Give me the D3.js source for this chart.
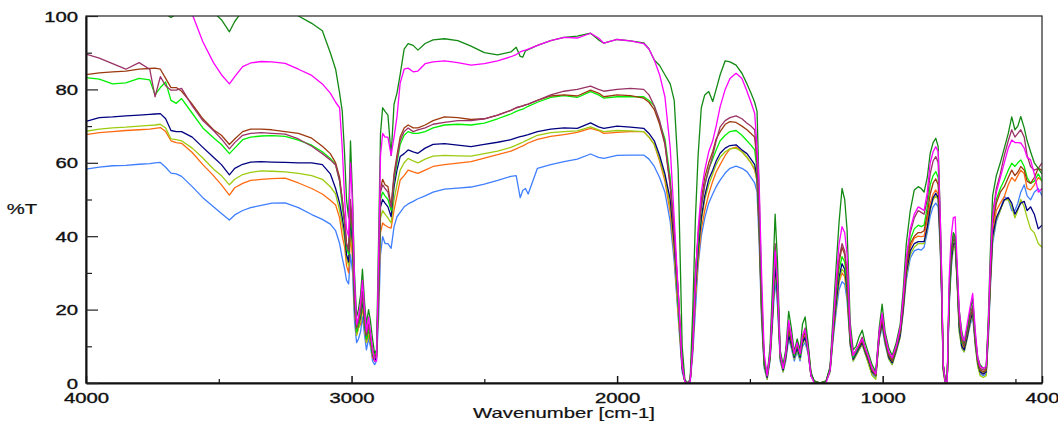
<!DOCTYPE html>
<html><head><meta charset="utf-8">
<script src="https://cdn.jsdelivr.net/npm/d3@7"></script>
<style>body{margin:0;background:#fff}svg{display:block}</style>
</head><body>
<svg id="chart" width="1058" height="421"></svg>
<script>
// ---- DATA ----
const wavenumbers = [
 4000,3950,3900,3850,3800,3760,3740,3720,3700,3680,3660,3640,3600,3560,3520,3490,3460,3440,3410,3380,3340,3300,3250,3200,3150,3110,3080,3060,3045,3035,
 3026,3019,3011,3004,2996,2989,2981,2974,2966,2959,2951,2944,2936,2929,2921,2913,2906,2898,2891,2883,2874,2863,2851,2840,2829,2817,2802,2787,2768,2750,2723,2693,
 2650,2600,2550,2500,2450,2400,2380,2365,2355,2345,2335,2300,2250,2200,2150,2100,2070,2050,2000,1950,1900,1880,1860,1840,1820,1800,1785,1770,1755,1745,1735,
 1725,1715,1705,1695,1683,1670,1655,1640,1627,1612,1593,1575,1552,1530,1511,1496,1482,
 1473,1465,1456,1446,1435,1424,1414,1405,1396,1386,1375,1365,1354,1344,1333,1322,1311,1302,1292,1281,1270,1258,1236,1213,1198,1187,1175,1164,1153,1143,1134,1122,1111,1100,
 1089,1077,1066,1053,1040,1026,1013,1002,991,977,964,949,934,923,911,896,881,866,855,844,832,821,810,800,791,783,778,772,765,757,750,742,734,727,719,712,702,693,682,670,661,651,642,633,621,610,602,595,586,572,557,542,527,514,502,491,480,467,456,443,429,414,400
];

const darkGreen = [
 106,106,105,104,103,102,101.5,101,100.5,99.6,100.5,102,102,102,101,99,95.7,98.5,101.5,103,104,104,103,100,98,96,90,85.5,79,74,
 62,50,45,66,50,30,18,20,24,31,22,16,20,17,12,8,9,40,68,75,74,73,62,76,79,84,91,92.5,92,90.7,92.5,93.5,
 93.8,93.3,91.8,90,89.4,90.2,91.5,89,88.8,90.5,90.8,92,93.3,94.2,94.5,95.3,93.5,92.6,93.6,93.2,92.7,91,88,86.5,84,81.5,77,58,10,1,0,
 1,20,45,62,75,78.5,79.4,76.7,80,84,87.8,87.5,86.6,84.4,81.5,79,76.5,
 74,52,25,6,2,10,28,46,33,9,5,9,19.5,15,8.5,12,9,16,18,11,3,0.5,0,0.5,4.5,18,32,44,53,50,41.7,16.3,9,10,
 12.5,14.4,11,8,5,3,15,21.5,14,9.5,7.5,11,16,25,38,47,52.6,53.5,53,52,56,62.6,65.5,66.7,64.4,45,30,5,1,0.5,22,36,41,40,30,20,14,11,14.5,20,23,13,7,5,4,4.5,18,35,51,56.5,60,64,68,72.5,69,70,72.6,69.5,66,63,60,58.5,57
];
const magenta = [
 108,108,108,108,108,107,106.5,106,105,104,103,102,100.5,93,87.3,84,81.5,83.5,86.2,87.2,87.6,87.5,87.1,85.5,83.8,81.5,79,76.5,75,64,
 50,42,40,60,48,28,16,18,22,28,20,14,18,14,9,6,6,35,62,68,67,67,62,67,72.5,81.7,85.5,85.8,84.8,85,87,87.5,
 87.8,87.3,86.6,87,87.8,88.9,89.5,90.2,90.5,90.7,91,92,93.3,94.2,94,95.3,94,92.6,93.6,93.2,92.5,91,88,84,78,64,45,25,5,0.5,0,
 0.5,10,28,42,52,58,63,66,70,75.3,80,83,84.4,83,79.5,76.5,73.5,
 64,54,30,8,2,8,22,36,28,8,4,8,17,13,8,11,8,13,14.5,9,2,0,-1,0,3.5,15,28,38,42.6,41,35,14,7.5,9,
 10.5,12,9.5,7,4,2.5,14,19,13,8.5,7,10,15,23,34,42,46,48,47.5,47,52,60,63,64.4,63,45,30,5,0.5,0.5,28,40,45,45.3,32,20,13,11.5,16,21,24.4,14,7,4.5,4,4.5,16,32,45,52,56,60,64,66.2,65.5,65.5,65.4,64,61.5,60.8,57,52,53
];
const maroon = [
 89.6,88.5,87,85.5,87.3,85.5,78,83.5,81,79.8,79.8,80.3,75.5,71.5,68.8,66.5,63.8,65.5,67.5,68,68.2,68,67.8,66.5,64.5,62.5,60.8,59.4,55,50,
 44,38,36,50,42,25,15,17,20,25,18,13,16,13,9,7,8,28,52,54,53,52,48,56,61,66,68.5,69.5,68.5,69,69.5,70.5,
 71,71.5,71.5,72,73,74.3,75,75.3,75.5,75.8,76,77,78.5,79.5,80,80.9,80,79.5,80,80.3,80,78.5,75.5,71.5,65.5,54,41,25,5,0.5,0,
 0.5,12,30,40,48,54,58,62,66,69.8,71.5,72.3,72.8,72,70.8,70,69,
 60,45,22,6,2,8,22,38,28,8,4,8,16,12,8,11,8,12.5,15,10,2.5,0.5,0,0.5,4,15,26,34,38,36,30,13,7.5,9,
 10.5,12.5,9.5,7,4,2.5,14,18.5,12.5,8,6.5,10,14.5,22,33,41,45,47,46.5,46,50,57,60.5,61.7,60,43,28,5,1,0.5,24,36,40,40,30,18,12,10.5,14,18.5,21,12,6.5,4,3.5,4,16,30,46,53,57,62,66,69,67,68,69,67,62,59,58,58.5,60
];
const brown = [
 84,84.5,84.8,85,85.5,85.7,85.8,85.5,83,80.5,80.5,79.5,76,72,69,67.5,65,66.5,68.5,69.2,69.2,69,68.5,68,66.7,64.5,62.5,60,56,50,
 44,38,36,48,42,25,15,17,20,25,18,13,16,13,9,7,8,28,53,55.5,54,53.5,48,57,62,67,69.5,70.3,69.5,69.5,70.3,71.5,
 72.5,72.3,71.8,72,73,74.3,75,75.3,75.5,75.8,76,77,78.2,78.5,78.2,79.8,79,78,78.5,78.3,77.6,76.5,74.5,70.5,65,53.5,40,25,5,0.5,0,
 0.5,12,30,40,50,56,60,63,66.5,68.5,70.5,71.2,71,70,69,68,67,
 60,45,22,6,2,8,21,36,27,8,4,8,15,11.5,8,10.5,8,12,14,9.5,2.5,0.5,0,0.5,4,14.5,25,33,37,35,29,12.5,7.5,9,
 10,11.5,9,6.5,3.5,2,13,17.5,12,7.5,6,9.5,14,21,31,38,40,41,41,41.5,46,51.5,54.5,55.6,54,40,27,5,1,0.5,24,35,39,39,29,17.5,11.5,10,13.5,18,20.5,11.5,6,3.5,3,3.5,15,28,43,49,52,53.5,56,58,56.5,57.5,59,58,55,54.4,56,58.5,58
];
const lime = [
 83.2,82.8,81.5,81.8,83,82.6,78.5,80.5,82,77,76.2,77.5,73.5,69.5,66.8,65,62.5,64,66.3,67,67.3,67.4,67.2,66.2,64.8,63,61.2,59.5,55,48,
 43,37,35,47,40,24,14,16,19,24,17,12,15,12,8,7,8,27,50,52,51,50,47,55,60,65,67.5,68.5,68,68,68.5,69.5,
 70.3,70.5,70.3,70.8,72,73.3,74,74.4,74.6,75,75.4,76.5,77.8,78.3,77.8,79.4,78.5,77.6,78,78,78,77,75.5,71,66.5,56,42,22,5,0.5,0,
 0.5,11,28,38,48,54,58.5,61,63.5,66,67.5,68.5,68.8,67.5,66,64.8,63.5,
 58,44,21,5.5,2,8,21,35,26,7.5,4,8,15,11.5,7.5,10.5,7.5,12,14,9.5,2.5,0.5,0,0.5,4,14,24,31,34.4,33,27,12,7,8.5,
 10,12,9,6.5,3.5,2,13.5,18,12,7.5,6,9.5,14,21.5,32,39,42,43,42.6,43,48,54,56.5,57.6,56,41,27,5,1,0.5,24,35,39.5,39.5,29,17,11,10,13.5,18,20.5,11.5,6,3.5,3,3.5,15,29,44,50,53,55.3,58,59.9,59,60,60.8,59,56,54.4,55,57,55
];
const navy = [
 71.3,72.3,72.5,72.8,73,73.2,73.3,73.4,72,68.8,68.5,68.5,67,64.2,61.5,59.5,56.7,58.5,59.6,60.2,60.3,60.2,60.1,60,60,59.5,57,53,49,45,
 41,35,33,45,38,22,14,16,18,23,16,12,15,12,8,6,7,25,48,50,49,48,45.3,53.5,58,61.7,62.5,63.5,63,62.6,64,65,
 65.2,64.8,64.4,65,65.6,66.3,66.8,67.1,67.3,67.5,67.7,68.5,69.2,69.5,69.4,70.9,69.8,69.4,70,69.7,69.4,68,66,62,57,50,38,22,4,0.5,0,
 0.5,10,26,36,45,51,55.5,58,60.5,62.6,64,64.7,64.9,63.5,62.5,61,59.5,
 56,42,20,5,1.5,7,19,32,24,7,3.5,7,13,10.5,7,9.5,7,11,12.5,9,2,0.5,0,0.5,3.5,13,22,29,32.5,31,25.5,11,6.5,8,
 9.5,11,8.5,6,3,2,12.5,16.5,11.5,7,5.5,9,13,20,30,36,38,38.5,38.5,38.5,42.5,47.5,50.5,51.7,50.5,38,25,4,0.5,0.5,22,33,38,38,27,15.5,10,9,12.5,17,19.5,11,5.5,3,2.5,3,14,27,40,45,47.5,49.9,50.5,49,46,47.5,49,49.5,47,48,46,42,43
];
const yellowGreen = [
 68.6,69.2,69.5,69.7,70,70.2,70.3,70.5,69.5,66.5,66.3,66,64,61.3,58.3,56.5,54,55.5,56.8,57.4,57.8,57.7,57.5,57.1,56.5,55.5,53.5,51.5,47,43,
 39,34,32,43,36,21,13,15,17,22,15,11,14,11,8,6,7,24,45,47,46,45,43.6,50,54,58,60,61.2,60.5,60,61,61.8,
 62,61.9,61.8,62.5,63.2,64.2,64.8,65.3,65.6,66,66.3,67.5,68.2,68.5,68.7,69.8,69,68.5,68.8,68.7,68.5,67,65,61,56,48,36,20,4,0.5,0,
 0.5,10,25,35,44,50,54,57,59.5,61.5,63,63.8,64,63,61.5,60,58.5,
 55,41,19,4.5,1,6.5,18.5,31,23,6.5,3,6.5,13,10,6.5,9,6.5,10.5,12,8.5,2,0.5,0,0.5,3,12.5,21,28,31,30,24.5,10.5,6,7.5,
 9,10.5,8,5,2,1,12,16,11,6.5,5,8.5,12.5,19.5,29,35,37,38,38,38,42,47,50,51,50,37,24,3,0,0,21,32,37,37,26,14,9.5,8.5,12,16.5,19,10,4.5,2,1.5,2,13,26,39,44.5,47,49.9,50,48,45,47,50,48,45,42,40.9,38,37
];
const orange = [
 67.7,68.2,68.5,68.8,69,69.2,69.4,69.6,68.5,66,65.5,65.3,62.8,59.5,56.5,54,51.2,53.2,54.4,55.2,55.5,55.7,55.8,54.5,53,51.5,49.8,48.5,45,40,
 37,32,30,40,34,20,13,15,16,21,15,11,13,11,7,6,7,22,41,43.6,43,42.5,42.2,47.1,51,55.3,56.5,58,57.5,57.1,58,59,
 59.5,59.9,60.3,61.3,62.2,63.2,63.8,64.3,64.6,65,65.4,66.4,67.2,67.7,68.3,69.4,68.8,68,68.3,68.5,68.5,67,65,60.5,55,46.5,35,19,4,0.5,0,
 0.5,9,23,33,42,47,51.5,55,57.5,59.5,62,63.8,64.3,63,61.5,60,58,
 55,41,19,5,1.5,7,19,32,24,7,3.5,7,14,10.5,7,9.5,7,11.5,13,9,2,0.5,0,0.5,3.5,12.5,21,27.5,30,29,24,10.5,6.5,8,
 9.5,11.5,8.5,6,3,2,13,17,11.5,7,5.5,9,13.5,20,30.5,37,39.5,40,39.9,40,44.5,49,51.5,52.6,51.5,38,25,4,0.5,0.5,22,33.5,38,38,27.5,16,10.5,9.5,13,17,19.5,11,5.5,3,2.5,3,14,27,41,47,49,50.8,54,56,55,56.5,58,57,53,52.6,54,56,55
];
const blue = [
 58.3,58.8,59.2,59.3,59.6,59.8,60,60.1,58.8,57.2,57,56.3,53.5,50.5,48,46.2,44.4,45.8,47,47.8,48.4,49,49.1,47.8,45.9,44.6,43.3,41.5,38,34,
 31,28,27,35,30,17,11,12,14,18,13,9,12,10,6,5,6,18,35,39.9,38,38,36.7,42.6,45.3,46.5,48,48.8,49.5,50.2,51,52,
 52.8,53.1,53.4,54.2,55.2,56.3,56.5,50.5,52.5,53,51.5,58.5,59.5,60.3,61,62.4,61.5,61.2,62,62.1,62.1,61,59,56,52,44,33,18,3,0.5,0,
 0,8,20,32,40,45,49,51.5,53.5,55.3,57.2,58.5,59.1,58.5,57.6,56,54.5,
 52,38,17,4,1,6,17,28,21,6,3,6,12,9.5,6,8.5,6,10,11,8,2,0.5,0,0.5,3,11.5,19.5,25.5,27.6,27,22.5,10,6,7.5,
 9,10.5,8,5.5,2.5,1.5,12,15,10.5,6.5,5,8.5,12.5,19,28,34,36,36.5,36.2,37,41,45.5,48,49,48,36,23,3.5,0.5,0.5,20,31,37,39.9,27,14.5,9.5,8.5,12,16,18,10,5,2.5,2,2.5,12,25,38,44,47,50.8,50,47,47,49,52,54,51,49.9,52,53,51
];

const seriesNames  = ["blue","orange","yellowGreen","navy","lime","brown","maroon","darkGreen","magenta"];
const seriesValues = [blue, orange, yellowGreen, navy, lime, brown, maroon, darkGreen, magenta];
const seriesColors = ["#3f7fff","#ff6a10","#9ccc10","#000080","#00f000","#9c3a10","#993366","#138a13","#ff00ff"];

const xMajorTicks = [4000, 3000, 2000, 1000, 400];
const xMinorTicks = [3500, 2500, 1500, 500];
const yMajorTicks = [0, 20, 40, 60, 80, 100];
const yMinorTicks = [10, 30, 50, 70, 90];
const xTitle = "Wavenumber [cm-1]";
const yTitle = "%T";

// ---- DRAW ----
const svg = d3.select("#chart");
const L = 86, R = 1042, T = 16, B = 383;
const x = d3.scaleLinear().domain([4000, 400]).range([L, R]);
const y = d3.scaleLinear().domain([0, 100]).range([B, T]);
const FONT = "'Liberation Sans', Arial, sans-serif";
const SX = 1.45;

function styleText(sel) {
  sel.attr("font-size", 14).attr("font-family", FONT).attr("fill", "#111")
     .attr("stroke", "#111").attr("stroke-width", 0.35);
}

svg.append("defs").append("clipPath").attr("id", "plot")
  .append("rect").attr("x", L).attr("y", T).attr("width", R - L).attr("height", B - T);

const line = d3.line().x(d => x(d[0])).y(d => y(d[1]));
const gLines = svg.append("g").attr("clip-path", "url(#plot)");
seriesValues.forEach((vals, i) => {
  const pts = wavenumbers.map((w, k) => [w, vals[k]]).filter(p => p[1] !== undefined);
  gLines.append("path").datum(pts)
    .attr("fill", "none").attr("stroke", seriesColors[i])
    .attr("stroke-width", 1.3).attr("stroke-linejoin", "round")
    .attr("d", line);
});

// frame
svg.append("rect").attr("x", L).attr("y", T).attr("width", R - L).attr("height", B - T)
  .attr("fill", "none").attr("stroke", "#222").attr("stroke-width", 1.2);

// x axis
const gx = svg.append("g").attr("transform", `translate(0,${B})`)
  .call(d3.axisBottom(x).tickValues(xMajorTicks).tickSizeInner(-7).tickSizeOuter(0).tickFormat(d3.format("d")));
gx.select(".domain").attr("stroke", "#111").attr("stroke-width", 2);
gx.selectAll(".tick line").attr("stroke", "#111").attr("stroke-width", 1.5);
gx.selectAll(".tick text").attr("y", 20).attr("dy", 0)
  .attr("transform", `scale(${SX},1)`).call(styleText);
const gxm = svg.append("g").attr("transform", `translate(0,${B})`)
  .call(d3.axisBottom(x).tickValues(xMinorTicks).tickSizeInner(-4).tickSizeOuter(0).tickFormat(""));
gxm.select(".domain").remove();
gxm.selectAll(".tick line").attr("stroke", "#111").attr("stroke-width", 1.2);

// y axis
const gy = svg.append("g").attr("transform", `translate(${L},0)`)
  .call(d3.axisLeft(y).tickValues(yMajorTicks).tickSizeInner(-12).tickSizeOuter(0));
gy.select(".domain").attr("stroke", "#111").attr("stroke-width", 2);
gy.selectAll(".tick line").attr("stroke", "#222").attr("stroke-width", 1.2);
gy.selectAll(".tick text").attr("x", -8 / SX).attr("dy", "0.36em")
  .attr("transform", `scale(${SX},1)`).call(styleText);
const gym = svg.append("g").attr("transform", `translate(${L},0)`)
  .call(d3.axisLeft(y).tickValues(yMinorTicks).tickSizeInner(-6).tickSizeOuter(0).tickFormat(""));
gym.select(".domain").remove();
gym.selectAll(".tick line").attr("stroke", "#222").attr("stroke-width", 1.2);

// titles
svg.append("text").attr("transform", `translate(${(L + R) / 2},418) scale(${SX},1)`)
  .attr("text-anchor", "middle").call(styleText).attr("stroke-width", 0.2)
  .text(xTitle);
svg.append("text").attr("transform", `translate(22,214) scale(${SX},1)`)
  .attr("text-anchor", "middle").call(styleText).attr("stroke-width", 0.2)
  .text(yTitle);
</script>
</body></html>
